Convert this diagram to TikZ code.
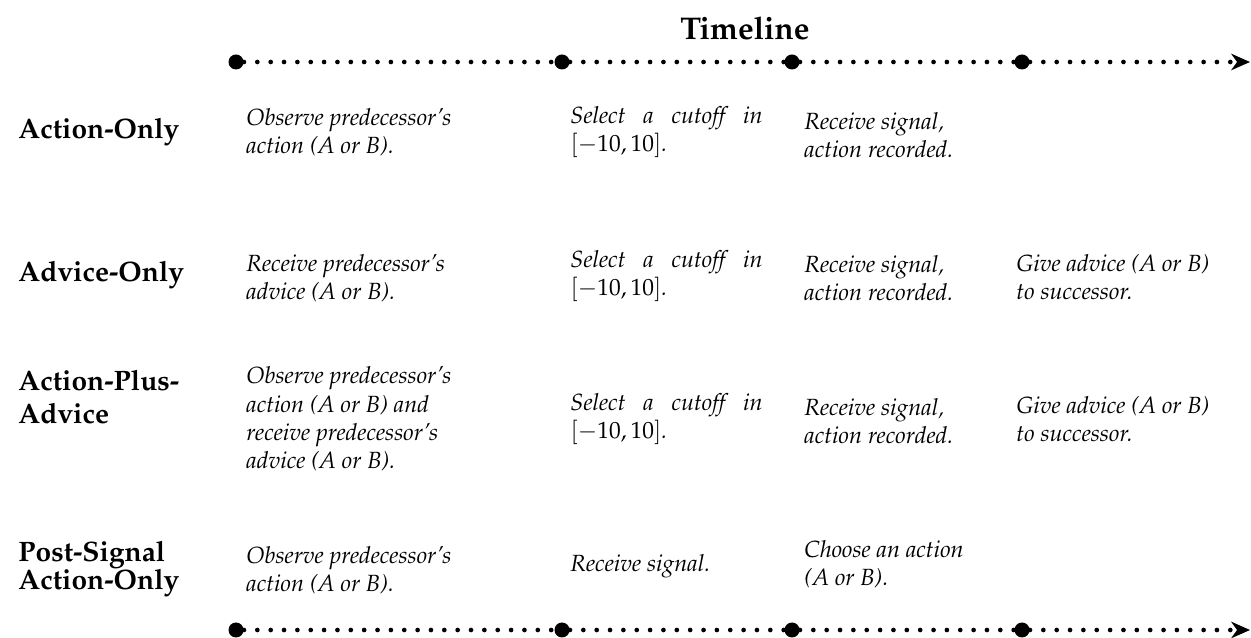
\documentclass[tikz,border=0pt]{standalone}
\usepackage[T1]{fontenc}
\usepackage{mathpazo}
\usepackage{amsmath}
\usetikzlibrary{arrows.meta}

\newcommand{\cutoffstep}{Select\hfill a\hfill cutoff\hfill in\\$[-10,10]$.}

\tikzset{
  rowlabel/.style={font=\large\bfseries, anchor=west, inner sep=0pt, align=left},
  steptext/.style={font=\itshape, anchor=west, inner sep=0pt, align=left},
  cutofftext/.style={steptext, text width=82pt},
  tickdot/.style={circle, fill=black, inner sep=0pt, minimum size=6.4pt},
  timeline/.style={line width=2pt, line cap=round, dash pattern=on 0pt off 5.7pt},
  timetip/.style={-{Stealth[length=8pt, width=7pt, inset=2.5pt]}},
}

\begin{document}
\begin{tikzpicture}[x=0.015cm, y=-0.015cm]
\useasboundingbox (0,0) rectangle (1251,638);

\node[font=\fontsize{13.4}{16}\selectfont\bfseries] (title) at (745,28) {Timeline};

% time axis, top and bottom
\foreach \x [count=\i] in {236,562,792,1022} {
  \node[tickdot] (t\i) at (\x,62) {};
  \node[tickdot] (b\i) at (\x,630) {};
}
\coordinate (tend) at (1250,62);
\coordinate (bend) at (1250,630);
\draw[timeline] (t1) -- (t2) -- (t3) -- (t4);
\draw[timeline, timetip] (t4) -- (tend);
\draw[timeline] (b1) -- (b2) -- (b3) -- (b4);
\draw[timeline, timetip] (b4) -- (bend);

% treatments
\node[rowlabel] (ao) at (18,132) {Action-Only};
\node[rowlabel] (vo) at (18,275) {Advice-Only};
\node[rowlabel] (ap) at (18,397) {Action-Plus-\\Advice};
\node[rowlabel] (ps) at (18,569) {Post-Signal\\[-2pt]Action-Only};

% Action-Only
\node[steptext] (ao1) at (246,132) {Observe predecessor's\\action (A or B).};
\node[cutofftext] (ao2) at (570,132) {\cutoffstep};
\node[steptext] (ao3) at (804,135) {Receive signal,\\action recorded.};

% Advice-Only
\node[steptext] (vo1) at (246,278) {Receive predecessor's\\advice (A or B).};
\node[cutofftext] (vo2) at (570,276) {\cutoffstep};
\node[steptext] (vo3) at (804,278) {Receive signal,\\action recorded.};
\node[steptext] (vo4) at (1016,277) {Give advice (A or B)\\to successor.};

% Action-Plus-Advice
\node[steptext] (ap1) at (246,419) {Observe predecessor's\\action (A or B) and\\receive predecessor's\\advice (A or B).};
\node[cutofftext] (ap2) at (570,419) {\cutoffstep};
\node[steptext] (ap3) at (804,421) {Receive signal,\\action recorded.};
\node[steptext] (ap4) at (1016,419) {Give advice (A or B)\\to successor.};

% Post-Signal Action-Only
\node[steptext] (ps1) at (246,570) {Observe predecessor's\\action (A or B).};
\node[steptext] (ps2) at (570,566) {Receive signal.};
\node[steptext] (ps3) at (804,564) {Choose an action\\(A or B).};
\end{tikzpicture}
\end{document}
